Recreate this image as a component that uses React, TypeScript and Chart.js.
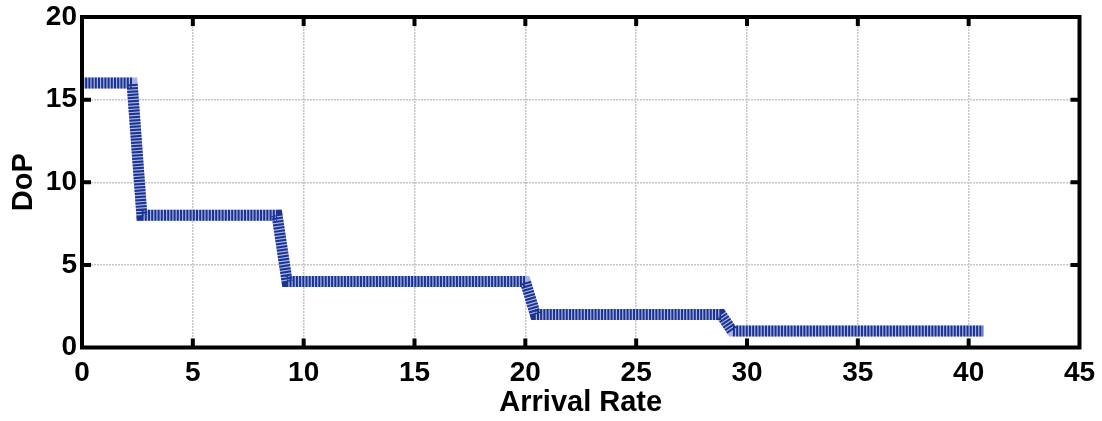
import React, { useEffect, useRef } from "react";
import { Chart, registerables } from "chart.js";

Chart.register(...registerables);

// Step profile of degree of parallelism against arrival rate
const arrivalRate = [0, 2.26, 2.7, 8.8, 9.25, 20.0, 20.45, 28.83, 29.33, 40.66];
const dop = [16, 16, 8, 8, 4, 4, 2, 2, 1, 1];

const xTicks = [0, 5, 10, 15, 20, 25, 30, 35, 40, 45];
const yTicks = [0, 5, 10, 15, 20];

const FONT = "'Liberation Sans', Arial, Helvetica, sans-serif";

// Thick black box with inward tick marks on all four sides
const framePlugin = {
  id: "frameTicks",
  afterDraw(chart: any) {
    const { ctx, chartArea } = chart;
    const { left, right, top, bottom } = chartArea;
    const xs = chart.scales.x;
    const ys = chart.scales.y;
    const len = 9;
    ctx.save();
    ctx.strokeStyle = "#000";
    ctx.lineWidth = 4;
    ctx.lineCap = "butt";
    ctx.beginPath();
    for (const v of xTicks) {
      const px = xs.getPixelForValue(v);
      if (px <= left + 2 || px >= right - 2) continue;
      ctx.moveTo(px, bottom);
      ctx.lineTo(px, bottom - len);
      ctx.moveTo(px, top);
      ctx.lineTo(px, top + len);
    }
    for (const v of yTicks) {
      const py = ys.getPixelForValue(v);
      if (py <= top + 2 || py >= bottom - 2) continue;
      ctx.moveTo(left, py);
      ctx.lineTo(left + len, py);
      ctx.moveTo(right, py);
      ctx.lineTo(right - len, py);
    }
    ctx.stroke();
    ctx.lineJoin = "miter";
    ctx.strokeRect(left, top, right - left, bottom - top);
    ctx.restore();
  },
};

export default function App() {
  const ref = useRef<HTMLCanvasElement | null>(null);

  useEffect(() => {
    document.body.style.margin = "0";
    const canvas = ref.current;
    if (!canvas) return;
    const points = arrivalRate.map((x, i) => ({ x, y: dop[i] }));
    const chart = new Chart(canvas, {
      type: "scatter",
      data: {
        datasets: [
          {
            // striped dark stroke, drawn on top
            label: "DoP",
            data: points,
            showLine: true,
            borderColor: "#1a3290",
            borderWidth: 11,
            borderDash: [2, 1.2],
            borderCapStyle: "butt",
            borderJoinStyle: "miter",
            pointRadius: 0,
            tension: 0,
            order: 0,
          },
          {
            // pale band showing between the stripes
            label: "DoP base",
            data: points,
            showLine: true,
            borderColor: "#a9b4e2",
            borderWidth: 11,
            borderCapStyle: "butt",
            borderJoinStyle: "miter",
            pointRadius: 0,
            tension: 0,
            order: 1,
          },
        ],
      },
      options: {
        responsive: false,
        animation: false,
        layout: { padding: { left: 0, right: 22.5, top: 17, bottom: 0 } },
        plugins: {
          legend: { display: false },
          tooltip: { enabled: false },
        },
        scales: {
          x: {
            type: "linear",
            min: 0,
            max: 45,
            afterBuildTicks: (s: any) => {
              s.ticks = xTicks.map((v) => ({ value: v }));
            },
            afterFit: (s: any) => {
              s.height = 73.5;
              s.paddingLeft = 0;
              s.paddingRight = 0;
            },
            ticks: {
              color: "#000",
              padding: 9,
              maxRotation: 0,
              font: { family: FONT, size: 28, weight: "bold" },
            },
            grid: {
              color: "#c6c6c6",
              lineWidth: 1.5,
              drawTicks: false,
            },
            border: { display: false, dash: [2, 1] },
            title: {
              display: true,
              text: "Arrival Rate",
              color: "#000",
              font: { family: FONT, size: 29, weight: "bold" },
              padding: { top: 0, bottom: 1 },
            },
          },
          y: {
            type: "linear",
            min: 0,
            max: 20,
            afterBuildTicks: (s: any) => {
              s.ticks = yTicks.map((v) => ({ value: v }));
            },
            afterFit: (s: any) => {
              s.width = 82;
              s.paddingTop = 0;
              s.paddingBottom = 0;
            },
            ticks: {
              color: "#000",
              padding: 5,
              font: { family: FONT, size: 28, weight: "bold" },
            },
            grid: {
              color: "#c6c6c6",
              lineWidth: 1.5,
              drawTicks: false,
            },
            border: { display: false, dash: [2, 1] },
            title: {
              display: true,
              text: "DoP",
              color: "#000",
              font: { family: FONT, size: 29, weight: "bold" },
              padding: { top: 7, bottom: 0 },
            },
          },
        },
      },
      plugins: [framePlugin],
    } as any);
    return () => chart.destroy();
  }, []);

  return (
    <div style={{ width: 1102, height: 421 }}>
      <canvas ref={ref} width={1102} height={421} style={{ display: "block" }} />
    </div>
  );
}
